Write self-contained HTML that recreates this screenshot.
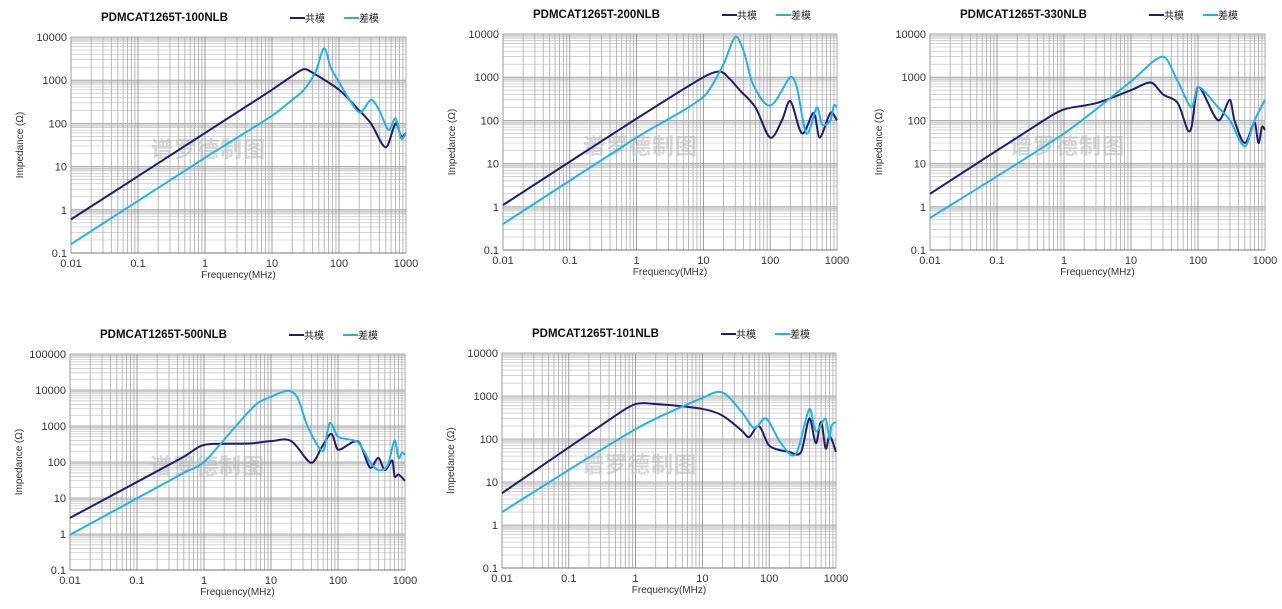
<!DOCTYPE html><html><head><meta charset="utf-8"><style>
body{margin:0;background:#fff;width:1282px;height:609px;overflow:hidden}
svg{position:absolute;left:0;top:0}
text{font-family:"Liberation Sans","Noto Sans CJK SC",sans-serif}
</style></head><body>
<svg id="s" width="1282" height="609" xmlns="http://www.w3.org/2000/svg"></svg>
<script>
const C1="#201c6e",C2="#1eb4ea";
const charts=[
{t:"PDMCAT1265T-100NLB",x0:71,x1:406,y0:37,y1:253,ymax:4,
cm:[[0.01,0.6],[1,60],[10,600],[20,1250],[30,1800],[40,1500],[100,600],[200,200],[300,100],[500,28],[700,100],[850,50],[1000,60]],
dm:[[0.01,0.16],[1,16],[10,150],[20,350],[30,600],[45,1600],[60,5500],[75,2000],[100,900],[200,180],[300,350],[400,200],[550,70],[700,130],[850,45],[1000,60]]},
{t:"PDMCAT1265T-200NLB",x0:503,x1:837,y0:34,y1:250,ymax:4,
cm:[[0.01,1.1],[1,110],[10,1000],[18,1350],[25,900],[35,500],[60,200],[100,40],[150,100],[200,280],[300,50],[450,150],[550,40],[800,150],[1000,100]],
dm:[[0.01,0.4],[1,40],[10,350],[20,2000],[30,8500],[40,4000],[55,700],[100,220],[200,1000],[250,600],[350,50],[500,200],[600,80],[800,100],[900,220],[1000,200]]},
{t:"PDMCAT1265T-330NLB",x0:930,x1:1265,y0:34,y1:250,ymax:4,
cm:[[0.01,2],[0.5,100],[1,180],[3,250],[10,500],[20,750],[30,400],[50,250],[70,60],[80,70],[100,600],[200,100],[300,300],[350,100],[500,30],[700,90],[800,30],[900,70],[1000,60]],
dm:[[0.01,0.55],[1,50],[10,800],[30,3000],[50,800],[80,200],[100,600],[200,200],[300,100],[500,25],[700,100],[1000,300]]},
{t:"PDMCAT1265T-500NLB",x0:70,x1:405,y0:354,y1:570,ymax:5,
cm:[[0.01,2.8],[0.5,140],[0.9,280],[1.5,320],[5,330],[10,380],[20,380],[40,95],[60,300],[80,600],[100,220],[200,370],[300,70],[400,130],[500,60],[650,110],[700,40],[800,45],[1000,30]],
dm:[[0.01,0.95],[0.5,50],[1,100],[3,1000],[6,4000],[10,6500],[18,9500],[25,6000],[35,1000],[60,200],[75,1200],[100,500],[200,350],[300,100],[400,60],[550,80],[700,400],[800,130],[900,180],[1000,160]]},
{t:"PDMCAT1265T-101NLB",x0:502,x1:836,y0:353,y1:568,ymax:4,
cm:[[0.01,5.5],[0.5,350],[1,650],[2,650],[10,500],[20,350],[40,150],[50,110],[70,200],[100,70],[200,50],[300,50],[400,300],[500,80],[600,250],[700,60],[800,120],[1000,50]],
dm:[[0.01,2],[1,170],[10,900],[20,1200],[40,400],[60,180],[90,300],[150,80],[250,45],[400,500],[500,150],[700,300],[800,100],[850,200],[1000,250]]}
];
let h="";
for(const c of charts){
 const nd=c.ymax+1, X=f=>c.x0+(Math.log10(f)+2)/5*(c.x1-c.x0), Y=z=>c.y1-(Math.log10(z)+1)/nd*(c.y1-c.y0);
 for(let d=-1;d<c.ymax;d++){const ya=Y(8*10**d),yb=Y(10**(d+1));h+=`<rect x="${c.x0}" y="${yb}" width="${c.x1-c.x0}" height="${ya-yb}" fill="#e4e4e4"/>`;
  for(let k=1;k<10;k++){const y=Y(k*10**d);h+=`<line x1="${c.x0}" x2="${c.x1}" y1="${y}" y2="${y}" stroke="${k==1?'#999':'#bbb'}" stroke-width="${k==1?0.8:0.6}"/>`}}
 for(let d=-2;d<3;d++)for(let k=1;k<10;k++){const x=X(k*10**d);h+=`<line x1="${x}" x2="${x}" y1="${c.y0}" y2="${c.y1}" stroke="${k==1?'#888':'#aaa'}" stroke-width="0.8"/>`}
 h+=`<rect x="${c.x0}" y="${c.y0}" width="${c.x1-c.x0}" height="${c.y1-c.y0}" fill="none" stroke="#999" stroke-width="0.8"/>`;
 h+=`<line x1="${c.x0}" x2="${c.x1}" y1="${c.y1}" y2="${c.y1}" stroke="#777"/>`;
 for(let d=-1;d<=c.ymax;d++)h+=`<text x="${c.x0-4}" y="${Y(10**d)+4}" font-size="11" text-anchor="end" fill="#333">${10**d>=1?10**d:'0.1'}</text>`;
 ["0.01","0.1","1","10","100","1000"].forEach((l,i)=>h+=`<text x="${c.x0+i*(c.x1-c.x0)/5}" y="${c.y1+14}" font-size="11" text-anchor="middle" fill="#333">${l}</text>`);
 const cx=(c.x0+c.x1)/2;
 h+=`<text x="${cx}" y="${c.y1+25}" font-size="10" text-anchor="middle" fill="#333">Frequency(MHz)</text>`;
 h+=`<text transform="translate(${c.x0-48},${(c.y0+c.y1)/2}) rotate(-90)" font-size="10" text-anchor="middle" fill="#333">Impedance (Ω)</text>`;
 h+=`<text x="${c.x0+30}" y="${c.y0-16}" font-size="11.5" font-weight="bold" fill="#111">${c.t}</text>`;
 h+=`<line x1="${c.x0+219}" x2="${c.x0+234}" y1="${c.y0-19}" y2="${c.y0-19}" stroke="${C1}" stroke-width="2"/><text x="${c.x0+234}" y="${c.y0-15}" font-size="10" fill="#222">共模</text>`;
 h+=`<line x1="${c.x0+273}" x2="${c.x0+288}" y1="${c.y0-19}" y2="${c.y0-19}" stroke="${C2}" stroke-width="2"/><text x="${c.x0+288}" y="${c.y0-15}" font-size="10" fill="#222">差模</text>`;
 h+=`<text x="${c.x0+80}" y="${(c.y0+c.y1)/2+12}" font-size="22" font-weight="bold" fill="#bbb" opacity="0.6" letter-spacing="1">谱罗德制图</text>`;
 for(const [pts,col] of [[c.cm,C1],[c.dm,C2]]){
  const p=pts.map(q=>[X(q[0]),Y(q[1])]);let d=`M${p[0]}`;
  for(let i=0;i<p.length-1;i++){const a=p[i-1]||p[i],b=p[i],e=p[i+1],f=p[i+2]||e;
   const L=e[0]-b[0],s1=Math.min(1,L/Math.max(1e-6,e[0]-a[0])*2),s2=Math.min(1,L/Math.max(1e-6,f[0]-b[0])*2);
   d+=`C${b[0]+(e[0]-a[0])/6*s1},${b[1]+(e[1]-a[1])/6*s1} ${e[0]-(f[0]-b[0])/6*s2},${e[1]-(f[1]-b[1])/6*s2} ${e[0]},${e[1]}`}
  h+=`<path d="${d}" fill="none" stroke="${col}" stroke-width="2"/>`;
 }
}
document.getElementById("s").innerHTML=h;
</script></body></html>
